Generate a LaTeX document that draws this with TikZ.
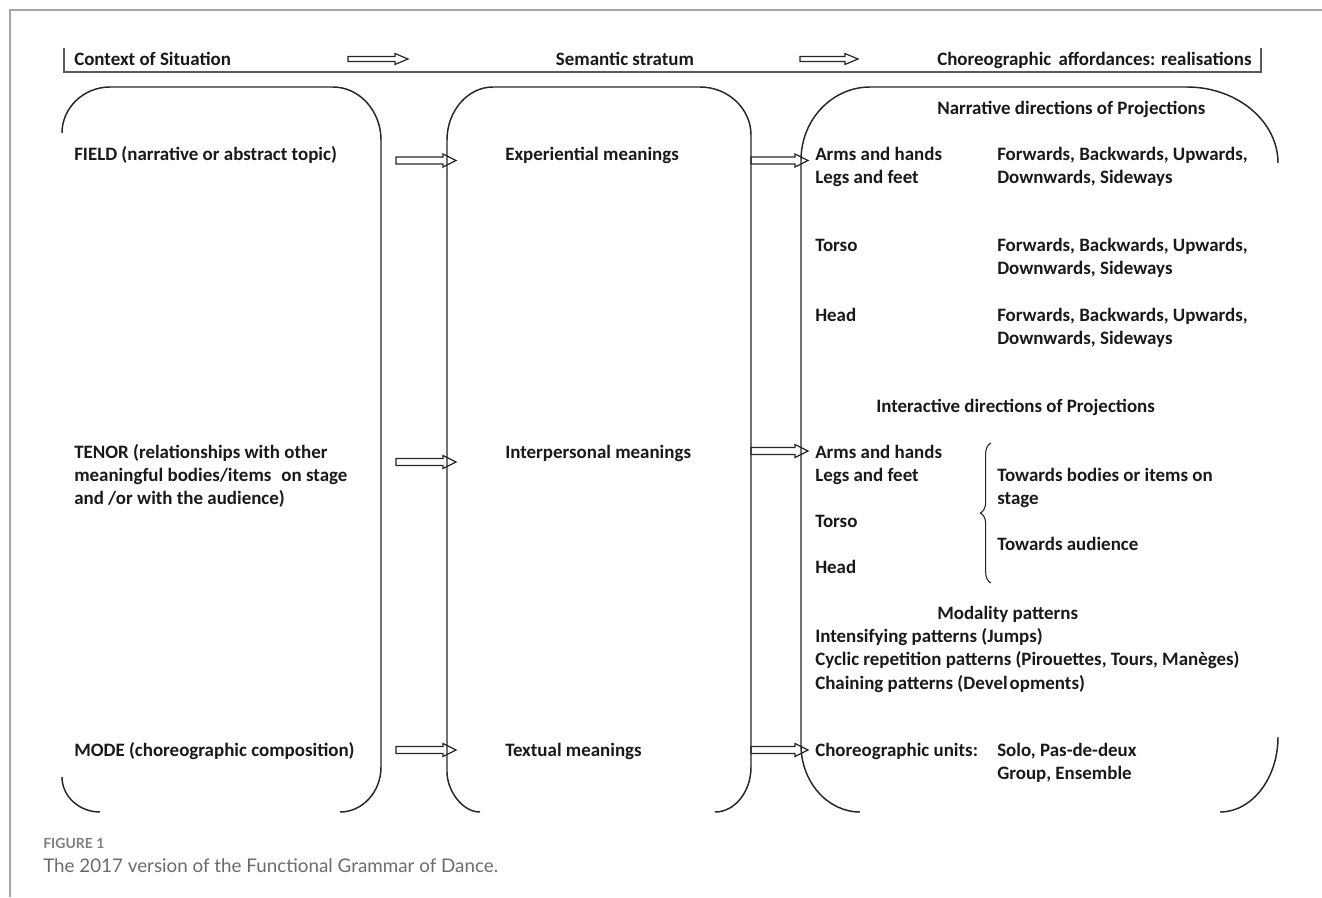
\documentclass[tikz,border=0pt]{standalone}
\usepackage{fontspec}
\setmainfont{Carlito}
\newfontfamily\capfont{Lato}
\usetikzlibrary{calc,decorations.pathreplacing}
\tikzset{
  lbl/.style={anchor=base west, inner sep=0pt, font=\bfseries\fontsize{14.2}{16}\selectfont, text=black!90},
  boxline/.style={line width=1.1pt, draw=black!85},
  arrowline/.style={line width=0.9pt, draw=black!85},
  headline/.style={line width=0.8pt, draw=black!65},
  frameline/.style={line width=0.8pt, draw=black!35},
  bracestyle/.style={line width=0.8pt, draw=black!85, decorate, decoration={brace, amplitude=8pt}},
}
\newcommand\blockarr[5]{\draw[arrowline] let \p1=(#1), \p2=(#2) in
  (\x1,{\y1+#3}) -- ({\x2-#5},{\y1+#3}) -- ({\x2-#5},{\y1+#4}) -- (\x2,\y1)
  -- ({\x2-#5},{\y1-#4}) -- ({\x2-#5},{\y1-#3}) -- (\x1,{\y1-#3}) -- cycle;}
\begin{document}
\begin{tikzpicture}[x=0.75pt,y=-0.75pt]
\useasboundingbox (0,0) rectangle (1322,897);
% frame
\draw[frameline] (10,897) -- (10,10) -- (1322,10);
% header
\draw[headline] (64,48) -- (64,72) -- (1261,72) -- (1261,48);
\node[lbl] (ctx) at (74,65) {Context of Situation};
\node[lbl, anchor=base] (sem) at (625,65) {Semantic stratum};
\node[lbl] (cho) at (937,65) {Choreographic\hspace{0.15em} affordances: realisations};
\coordinate (h1s) at (348,59); \coordinate (h1e) at (408,59);
\coordinate (h2s) at (800,59); \coordinate (h2e) at (858,59);
\blockarr{h1s}{h1e}{1.9pt}{4.1pt}{9.75pt}
\blockarr{h2s}{h2e}{1.9pt}{4.1pt}{9.75pt}
% left box
\draw[boxline] (62,133) .. controls (62,107.7) and (83.6,87) .. (110,87) -- (333,87)
  .. controls (359.4,87) and (381,110.9) .. (381,140) -- (381,767)
  .. controls (381,791.8) and (362.6,812) .. (340,812);
\draw[boxline] (62,777) .. controls (62,796.3) and (79.1,812) .. (100,812);
% middle box
\draw[boxline] (480,812) .. controls (461.9,812) and (447,790) .. (447,772) -- (447,140)
  .. controls (447,110.9) and (467.7,87) .. (493,87) -- (700,87)
  .. controls (728,87) and (751,108.6) .. (751,135) -- (751,767)
  .. controls (751,791.8) and (734.8,812) .. (715,812);
% right box
\draw[boxline] (1278,163) .. controls (1278,121.2) and (1237,87) .. (1187,87) -- (870,87)
  .. controls (832,87) and (801,119.9) .. (801,160) -- (801,745)
  .. controls (801,781.9) and (827.6,812) .. (860,812);
\draw[boxline] (1278,737) .. controls (1278,778.3) and (1251.9,812) .. (1220,812);
% arrows between boxes
\coordinate (f1s) at (396,160.5); \coordinate (f1e) at (456,160.5);
\coordinate (f2s) at (751,160.5); \coordinate (f2e) at (808,160.5);
\coordinate (t1s) at (396,462); \coordinate (t1e) at (456,462);
\coordinate (t2s) at (751,451); \coordinate (t2e) at (808,451);
\coordinate (m1s) at (396,750); \coordinate (m1e) at (456,750);
\coordinate (m2s) at (751,750); \coordinate (m2e) at (808,750);
\blockarr{f1s}{f1e}{2.6pt}{4.9pt}{9.75pt}
\blockarr{f2s}{f2e}{2.6pt}{4.9pt}{9.75pt}
\blockarr{t1s}{t1e}{2.6pt}{4.9pt}{9.75pt}
\blockarr{t2s}{t2e}{2.6pt}{4.9pt}{9.75pt}
\blockarr{m1s}{m1e}{2.6pt}{4.9pt}{9.75pt}
\blockarr{m2s}{m2e}{2.6pt}{4.9pt}{9.75pt}
% left box texts
\node[lbl] (field) at (74,160) {FIELD (narrative or abstract topic)};
\node[lbl] (tenorA) at (74,458.5) {TENOR (relationships with other};
\node[lbl] (tenorB) at (74,481.5) {meaningful bodies/items\hspace{0.3em} on stage};
\node[lbl] (tenorC) at (74,504.5) {and /or with the audience)};
\node[lbl] (mode) at (74,756.5) {MODE (choreographic composition)};
% middle box texts
\node[lbl] (exp) at (505,160) {Experiential meanings};
\node[lbl] (inter) at (505,458.5) {Interpersonal meanings};
\node[lbl] (text) at (505,756.5) {Textual meanings};
% right box texts
\node[lbl] (narr) at (937,114.5) {Narrative directions of Projections};
\node[lbl] (armsA) at (815,160) {Arms and hands};
\node[lbl] (legsA) at (815,183) {Legs and feet};
\node[lbl] (dirA1) at (997,160) {Forwards, Backwards, Upwards,};
\node[lbl] (dirA2) at (997,183) {Downwards, Sideways};
\node[lbl] (torsoA) at (815,251.5) {Torso};
\node[lbl] (dirB1) at (997,251.5) {Forwards, Backwards, Upwards,};
\node[lbl] (dirB2) at (997,274.5) {Downwards, Sideways};
\node[lbl] (headA) at (815,321.5) {Head};
\node[lbl] (dirC1) at (997,321.5) {Forwards, Backwards, Upwards,};
\node[lbl] (dirC2) at (997,344.5) {Downwards, Sideways};
\node[lbl] (intdir) at (876,412.5) {Interactive directions of Projections};
\node[lbl] (armsB) at (815,458.5) {Arms and hands};
\node[lbl] (legsB) at (815,481.5) {Legs and feet};
\node[lbl] (torsoB) at (815,527.5) {Torso};
\node[lbl] (headB) at (815,573.5) {Head};
\coordinate (brB) at (991,583); \coordinate (brT) at (991,443);
\draw[bracestyle] (brB) -- (brT);
\node[lbl] (towA1) at (997,481.5) {Towards bodies or items on};
\node[lbl] (towA2) at (997,504.5) {stage};
\node[lbl] (towB) at (997,550.5) {Towards audience};
\node[lbl] (modal) at (937,619.5) {Modality patterns};
\node[lbl] (intens) at (815,642.5) {Intensifying patterns (Jumps)};
\node[lbl] (cyclic) at (815,665.5) {Cyclic repetition patterns (Pirouettes, Tours, Manèges)};
\node[lbl] (chain) at (815,689.5) {Chaining patterns (Devel\kern1.5pt opments)};
\node[lbl] (units) at (815,756.5) {Choreographic units:};
\node[lbl] (solo) at (997,756.5) {Solo, Pas-de-deux};
\node[lbl] (group) at (997,779.5) {Group, Ensemble};
% caption
\node[anchor=base west, inner sep=0pt, font=\capfont\bfseries\fontsize{10.5}{12}\selectfont, text=black!50] (figlbl) at (43,848) {FIGURE 1};
\node[anchor=base west, inner sep=0pt, font=\capfont\fontsize{14.1}{16}\selectfont, text=black!58] (caption) at (43,872) {The 2017 version of the Functional Grammar of Dance.};
\end{tikzpicture}
\end{document}
